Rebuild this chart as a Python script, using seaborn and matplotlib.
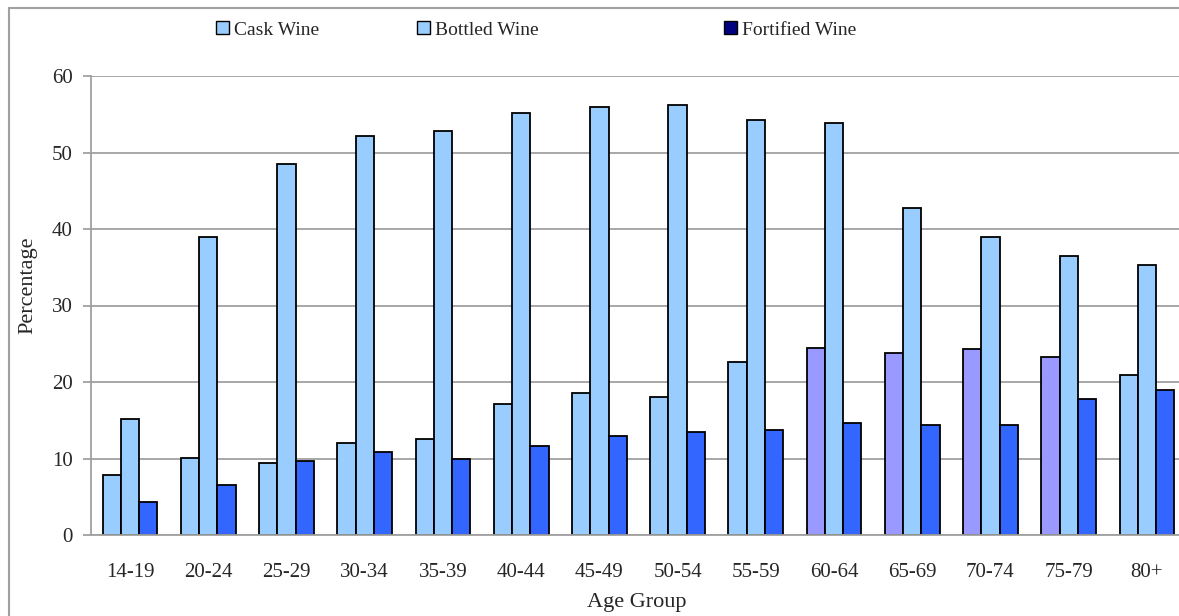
import matplotlib
matplotlib.use('Agg')
import matplotlib.pyplot as plt
from matplotlib.patches import Patch
from matplotlib.lines import Line2D
import seaborn as sns
import pandas as pd

ages = ['14-19', '20-24', '25-29', '30-34', '35-39', '40-44', '45-49',
        '50-54', '55-59', '60-64', '65-69', '70-74', '75-79', '80+']
cask = [7.9, 10.1, 9.4, 12.0, 12.5, 17.1, 18.5, 18.0, 22.6, 24.5, 23.8, 24.3, 23.3, 20.9]
bottled = [15.1, 38.9, 48.5, 52.1, 52.8, 55.2, 55.9, 56.2, 54.3, 53.8, 42.7, 38.9, 36.5, 35.3]
fortified = [4.3, 6.5, 9.7, 10.8, 9.9, 11.6, 13.0, 13.4, 13.7, 14.6, 14.4, 14.4, 17.8, 19.0]
types = ['Cask Wine', 'Bottled Wine', 'Fortified Wine']
# cask bars for these groups are drawn in lavender in the original
lavender_groups = ['60-64', '65-69', '70-74', '75-79']

df = pd.DataFrame({
    'Age Group': ages * 3,
    'Type': [types[0]] * 14 + [types[1]] * 14 + [types[2]] * 14,
    'Percentage': cask + bottled + fortified,
})

sns.set_style('white')
plt.rcParams['font.family'] = ['Liberation Serif', 'DejaVu Serif']

W, H = 1179, 616
fig = plt.figure(figsize=(W / 100, H / 100), dpi=100)
# plot area runs a little past the right edge, as in the original export
ax = fig.add_axes([91 / W, 81 / H, 1095 / W, 459 / H])

bar_colors = {'Cask Wine': '#99CCFF', 'Bottled Wine': '#99CCFF', 'Fortified Wine': '#3366FF'}
sns.barplot(data=df, x='Age Group', y='Percentage', hue='Type', order=ages,
            hue_order=types, palette=bar_colors, saturation=1, width=0.7, gap=0,
            edgecolor='black', linewidth=1.3, legend=False, ax=ax)

for i, age in enumerate(ages):
    if age in lavender_groups:
        ax.patches[i].set_facecolor('#9999FF')

ax.set_ylim(0, 60)
ax.set_xlim(-0.5, len(ages) - 0.5)
ax.set_yticks(range(0, 61, 10))
ax.yaxis.grid(True, color='#a0a0a0', linewidth=1.3)
ax.set_axisbelow(True)
for s in ['top', 'right']:
    ax.spines[s].set_visible(False)
for s in ['left', 'bottom']:
    ax.spines[s].set_color('#a0a0a0')
    ax.spines[s].set_linewidth(1.3)

ax.set_xticks(range(len(ages)))
ax.set_xticklabels(ages)
ax.set_xticks([i - 0.5 for i in range(len(ages) + 1)], minor=True)
ax.tick_params(axis='x', which='major', length=0, pad=20, labelsize=15)
ax.tick_params(axis='x', which='minor', length=6, color='#a0a0a0', width=1.3)
ax.tick_params(axis='y', length=6, color='#a0a0a0', width=1.3, labelsize=15,
               left=True, pad=7)

ax.set_xlabel('Age Group', fontsize=16, va='center')
ax.set_ylabel('Percentage', fontsize=16, va='center')
ax.xaxis.set_label_coords((637 - 91) / 1095, -(603 - 535) / 459)
ax.yaxis.set_label_coords(-(91 - 28) / 1095, (535 - 285) / 459)

legend_colors = ['#99CCFF', '#99CCFF', '#000080']
legend_x = [216, 417, 724]
for name, col, lx in zip(types, legend_colors, legend_x):
    fig.legend([Patch(facecolor=col, edgecolor='black')], [name],
               loc='center left', bbox_to_anchor=(lx / W, 1 - 30 / H),
               frameon=False, fontsize=14, handlelength=0.65, handleheight=0.65,
               handletextpad=0.3, borderpad=0, borderaxespad=0)

# chart-area border (left and top edges visible in the original)
fig.lines.append(Line2D([9.5 / W, 9.5 / W], [0, 1 - 7.5 / H], transform=fig.transFigure,
                        color='#a0a0a0', linewidth=1.5))
fig.lines.append(Line2D([9.5 / W, 1], [1 - 7.5 / H, 1 - 7.5 / H], transform=fig.transFigure,
                        color='#a0a0a0', linewidth=1.5))

fig.savefig('out.png', dpi=100)
